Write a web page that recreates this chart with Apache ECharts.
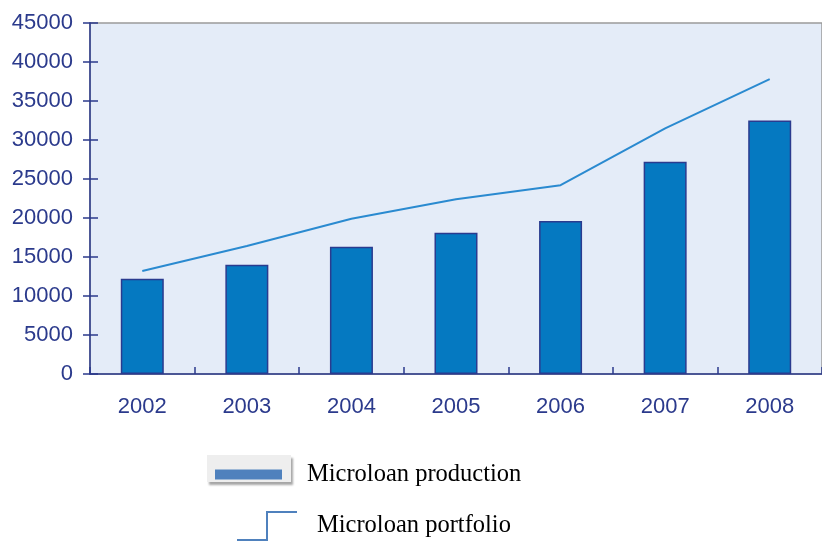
<!DOCTYPE html>
<html>
<head>
<meta charset="utf-8">
<script src="https://cdn.jsdelivr.net/npm/echarts@6/dist/echarts.min.js"></script>
<style>
  html, body { margin: 0; padding: 0; background: #fff; }
  #chart { width: 822px; height: 542px; }
</style>
</head>
<body>
<div id="chart"></div>
<script>
const years = ["2002", "2003", "2004", "2005", "2006", "2007", "2008"];
const production = [12200, 14000, 16300, 18100, 19600, 27200, 32500];
const portfolio = [13200, 16400, 19900, 22400, 24200, 31500, 37800];

const axisColor = "#2B3A8C";

const chart = echarts.init(document.getElementById("chart"));

chart.setOption({
  animation: false,
  grid: {
    left: 90,
    top: 23,
    bottom: 168,
    right: -10,
    show: true,
    backgroundColor: "#E4ECF8",
    borderColor: "#9A9A9A",
    borderWidth: 1.5,
  },
  // 图例背景装饰
  graphic: [
    {
      type: "rect",
      left: 207,
      top: 455,
      shape: { width: 84, height: 27 },
      style: {
        fill: "#EEEEEE",
        shadowColor: "rgba(0,0,0,0.35)",
        shadowOffsetX: 2,
        shadowOffsetY: 3,
        shadowBlur: 2,
      },
      z: 1,
    },
  ],
  legend: [
    {
      data: ["Microloan production"],
      left: 215,
      top: 462,
      padding: 0,
      icon: "rect",
      itemWidth: 67,
      itemHeight: 10,
      itemStyle: { color: "#4F81BD", borderWidth: 0 },
      textStyle: {
        fontFamily: "Liberation Serif",
        fontSize: 24.5,
        color: "#000",
        padding: [0, 0, 4, 20],
      },
      z: 5,
    },
    {
      data: [
        {
          name: "Microloan portfolio",
          icon: "path://M0 28 L29 28 L29 0 L60 0 L60 2 L31 2 L31 30 L0 30 Z",
        },
      ],
      left: 237,
      top: 511,
      padding: 0,
      itemWidth: 60,
      itemHeight: 30,
      itemStyle: { color: "#4F81BD", borderWidth: 0 },
      lineStyle: { width: 0 },
      textStyle: {
        fontFamily: "Liberation Serif",
        fontSize: 24.5,
        color: "#000",
        padding: [5, 0, 0, 15],
      },
    },
  ],
  xAxis: [
    {
      type: "category",
      data: years,
      axisLine: { lineStyle: { color: axisColor, width: 1.5 } },
      axisTick: { length: 8, lineStyle: { color: axisColor, width: 1.5 } },
      axisLabel: {
        color: axisColor,
        fontFamily: "Liberation Sans",
        fontSize: 22,
        margin: 22,
      },
    },
    {
      type: "category",
      data: years,
      position: "bottom",
      offset: 0,
      z: 10,
      axisLine: { show: false },
      axisTick: { show: true, inside: true, length: 7, lineStyle: { color: axisColor, width: 1.5 } },
      axisLabel: { show: false },
    },
  ],
  yAxis: [
    {
      type: "value",
      min: 0,
      max: 45000,
      interval: 5000,
      splitLine: { show: false },
      axisLine: { show: true, lineStyle: { color: axisColor, width: 1.5 } },
      axisTick: { show: true, length: 7, lineStyle: { color: axisColor, width: 1.5 } },
      axisLabel: {
        color: axisColor,
        fontFamily: "Liberation Sans",
        fontSize: 22,
        margin: 17,
        formatter: (v) => String(v),
      },
    },
    {
      type: "value",
      min: 0,
      max: 45000,
      interval: 5000,
      position: "left",
      offset: 0,
      z: 10,
      splitLine: { show: false },
      axisLine: { show: false },
      axisTick: { show: true, inside: true, length: 8, lineStyle: { color: axisColor, width: 1.5 } },
      axisLabel: { show: false },
    },
  ],
  series: [
    {
      name: "Microloan production",
      type: "bar",
      data: production,
      barWidth: 43,
      itemStyle: {
        color: "#0579C1",
        borderColor: "#2A3B8F",
        borderWidth: 1.5,
      },
    },
    {
      name: "Microloan portfolio",
      type: "line",
      data: portfolio,
      symbol: "none",
      lineStyle: { color: "#2A8AD0", width: 2 },
      itemStyle: { color: "#4F81BD" },
    },
    {
      // 占位系列，让第二组坐标轴参与绘制
      type: "line",
      xAxisIndex: 1,
      yAxisIndex: 1,
      data: [],
      silent: true,
    },
  ],
});
</script>
</body>
</html>
